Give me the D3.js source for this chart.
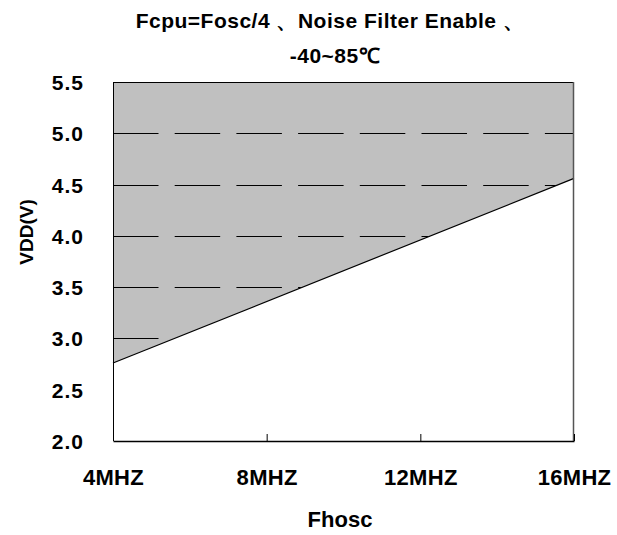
<!DOCTYPE html>
<html>
<head>
<meta charset="utf-8">
<title>Fhosc vs VDD</title>
<script src="https://d3js.org/d3.v7.min.js"></script>
<style>
  body { margin: 0; background: #fff; }
  text { font-family: "Liberation Sans", Arial, sans-serif; font-weight: bold; fill: #000; }
</style>
</head>
<body>
<div id="chart"></div>
<script>
// data
var freqTicks = [4, 8, 12, 16];
var freqLabels = ["4MHZ", "8MHZ", "12MHZ", "16MHZ"];
var vddTicks = [2.0, 2.5, 3.0, 3.5, 4.0, 4.5, 5.0, 5.5];
var gridVals = [3.0, 3.5, 4.0, 4.5, 5.0];
var limitFreq = [4, 16];
var limitVdd = [2.76, 4.56];

var W = 617, H = 535;
var margin = {top: 82, right: 43, bottom: 94, left: 113};
var width = W - margin.left - margin.right,
    height = H - margin.top - margin.bottom;

var svg = d3.select("#chart").append("svg")
    .attr("width", W)
    .attr("height", H);

var g = svg.append("g")
    .attr("transform", "translate(" + margin.left + "," + margin.top + ")");

var x = d3.scaleLinear().domain([4, 16]).range([0, width]);
var y = d3.scaleLinear().domain([2.0, 5.5]).range([height, 0]);

// gray background = allowed region
g.append("rect")
    .attr("width", width)
    .attr("height", height)
    .attr("fill", "#c0c0c0");

// dashed grid
g.selectAll(".grid")
    .data(gridVals).enter()
  .append("line")
    .attr("x1", 0).attr("x2", width)
    .attr("y1", function(d) { return Math.round(y(d)) + 0.5; })
    .attr("y2", function(d) { return Math.round(y(d)) + 0.5; })
    .attr("stroke", "#000")
    .attr("stroke-width", 1)
    .attr("stroke-dasharray", "45.5,16.2");

var pts = limitFreq.map(function(f, i) { return [f, limitVdd[i]]; });

// white area under the limit covers the grid
var area = d3.area()
    .x(function(d) { return x(d[0]); })
    .y0(height)
    .y1(function(d) { return y(d[1]); });
g.append("path").datum(pts)
    .attr("d", area)
    .attr("fill", "#fff");

g.append("path").datum(pts)
    .attr("d", d3.line().x(function(d) { return x(d[0]); }).y(function(d) { return y(d[1]); }))
    .attr("fill", "none")
    .attr("stroke", "#000")
    .attr("stroke-width", 1.2);

// frame
g.append("line").attr("x1", 0.5).attr("x2", 0.5).attr("y1", 0).attr("y2", height)
    .attr("stroke", "#000");
g.append("line").attr("x1", 0).attr("x2", width).attr("y1", 0.5).attr("y2", 0.5)
    .attr("stroke", "#000");
g.append("line").attr("x1", width - 0.5).attr("x2", width - 0.5).attr("y1", 0).attr("y2", height)
    .attr("stroke", "#555").attr("stroke-width", 1.5);

// x axis, ticks pointing inward
var xAxis = g.append("g")
    .attr("transform", "translate(0," + height + ")")
    .call(d3.axisBottom(x).tickValues(freqTicks).tickSize(-7).tickSizeOuter(0)
      .tickFormat(function(d, i) { return freqLabels[i]; }));
xAxis.select(".domain").attr("stroke", "#000").attr("stroke-width", 1.5);
xAxis.selectAll(".tick line").attr("stroke", "#000");
xAxis.selectAll(".tick text")
    .attr("y", 44)
    .attr("dy", 0)
    .style("font-size", "22px")
    .style("letter-spacing", "0.3px");

// y axis labels only
var yAxis = g.append("g")
    .call(d3.axisLeft(y).tickValues(vddTicks).tickSize(0)
      .tickFormat(d3.format(".1f")));
yAxis.select(".domain").remove();
yAxis.selectAll(".tick text")
    .attr("x", -29)
    .attr("dy", "0.36em")
    .style("font-size", "21px")
    .style("letter-spacing", "1px");

// titles
svg.append("text")
    .attr("x", 330).attr("y", 28)
    .attr("text-anchor", "middle")
    .style("font-size", "21px")
    .style("letter-spacing", "0.5px")
    .text("Fcpu=Fosc/4 \u3001Noise Filter Enable \u3001");
svg.append("text")
    .attr("x", 335).attr("y", 63)
    .attr("text-anchor", "middle")
    .style("font-size", "21px")
    .style("letter-spacing", "0.5px")
    .text("-40~85\u2103");

svg.append("text")
    .attr("x", 340).attr("y", 527)
    .attr("text-anchor", "middle")
    .style("font-size", "22px")
    .text("Fhosc");

svg.append("text")
    .attr("transform", "translate(33,232) rotate(-90)")
    .attr("text-anchor", "middle")
    .style("font-size", "19px")
    .text("VDD(V)");
</script>
</body>
</html>
